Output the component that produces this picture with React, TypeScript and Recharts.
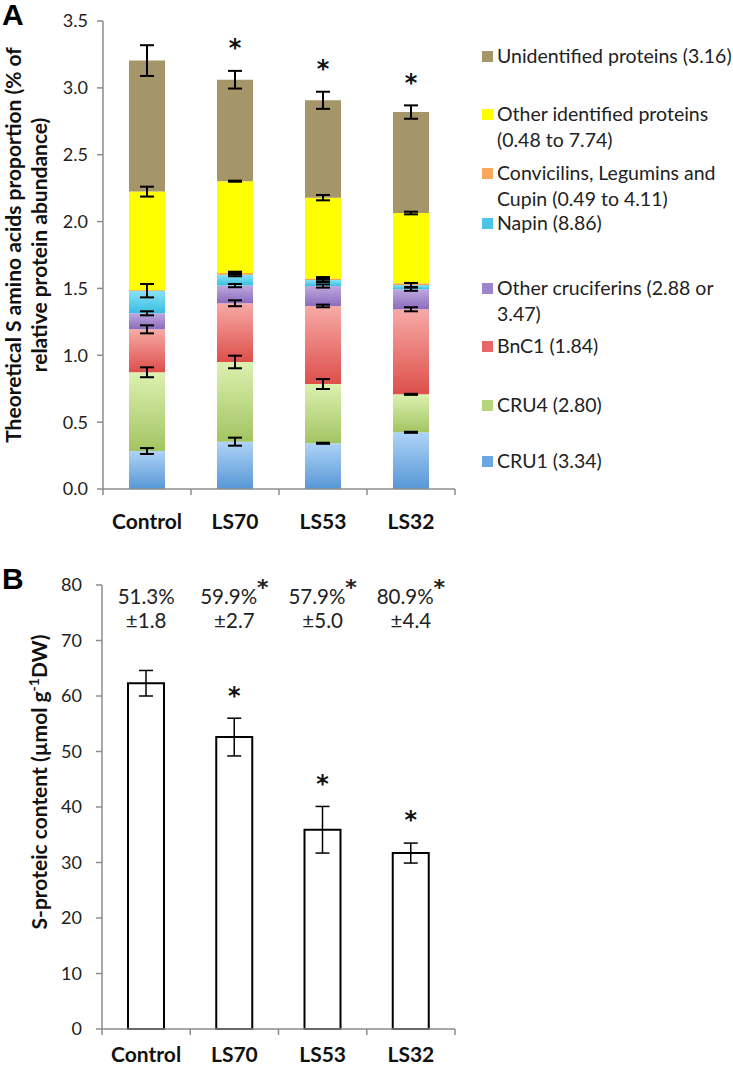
import React from 'react';
import { ComposedChart, Bar, ErrorBar, Scatter, XAxis, YAxis } from 'recharts';

const FONT = 'Lato, "Open Sans", sans-serif';
const AXIS_GREY = '#8c8c8c';

// ---- panel A: theoretical S amino acid proportion, stacked by protein family
const categories = ['Control', 'LS70', 'LS53', 'LS32'];
const cru1 = [0.284, 0.354, 0.342, 0.424];
const cru1Err = [0.022, 0.03, 0.004, 0.004];
const cru4 = [0.589, 0.596, 0.443, 0.284];
const cru4Err = [0.037, 0.047, 0.037, 0.004];
const bnc1 = [0.321, 0.439, 0.584, 0.636];
const bnc1Err = [0.03, 0.022, 0.01, 0.015];
const otherCru = [0.12, 0.132, 0.149, 0.15];
const otherCruErr = [0.015, 0.012, 0.012, 0.012];
const napin = [0.169, 0.082, 0.045, 0.032];
const napinErr = [0.05, 0.012, 0.015, 0.015];
const convicilin = [0.005, 0.012, 0.012, 0.012];
const convicilinErr = [0, 0.01, 0.01, 0];
const otherId = [0.736, 0.687, 0.604, 0.526];
const otherIdErr = [0.037, 0.004, 0.02, 0.01];
const unidentified = [0.98, 0.759, 0.728, 0.755];
const unidentifiedErr = [0.115, 0.066, 0.064, 0.05];
const sigA = [false, true, true, true];
const ticksA = [0, 0.5, 1, 1.5, 2, 2.5, 3, 3.5];

const legendA = [
  { key: 'unid', lines: ['Unidentified proteins (3.16)'] },
  { key: 'othId', lines: ['Other identified proteins', '(0.48 to 7.74)'] },
  { key: 'conv', lines: ['Convicilins, Legumins and', 'Cupin (0.49 to 4.11)'] },
  { key: 'napin', lines: ['Napin (8.86)'] },
  { key: 'othCru', lines: ['Other cruciferins (2.88 or', '3.47)'] },
  { key: 'bnc1', lines: ['BnC1 (1.84)'] },
  { key: 'cru4', lines: ['CRU4 (2.80)'] },
  { key: 'cru1', lines: ['CRU1 (3.34)'] },
];

// ---- panel B: S-proteic content
const sContent = [62.3, 52.6, 35.9, 31.7];
const sContentErr = [2.3, 3.4, 4.2, 1.8];
const sigB = [false, true, true, true];
const pctLabels = ['51.3%', '59.9%', '57.9%', '80.9%'];
const pctSd = ['±1.8', '±2.7', '±5.0', '±4.4'];
const pctSig = [false, true, true, true];
const ticksB = [0, 10, 20, 30, 40, 50, 60, 70, 80];

// styles
const SEG_COLORS: Record<string, [string, string]> = {
  cru1: ['#aed3f7', '#5797d6'],
  cru4: ['#dcf1b0', '#a3c462'],
  bnc1: ['#f7aaa6', '#dd4f4b'],
  othCru: ['#bea8de', '#8a6cbc'],
  napin: ['#8ae3f6', '#39bde2'],
  conv: ['#fbb062', '#f59a3c'],
  othId: ['#ffff00', '#ffff00'],
  unid: ['#a59669', '#a59669'],
};
const LEGEND_SWATCH: Record<string, string> = {
  unid: '#a59669', othId: '#ffff00', conv: '#f8a85a', napin: '#4cc6e8',
  othCru: '#9d84cc', bnc1: '#e8686a', cru4: '#b7d67c', cru1: '#6ba7e0',
};
const LEGEND_TOPS = [56, 114, 173, 223, 288, 346, 405, 461];
const STAR_GAP_A = 0.21;
const STAR_GAP_B = 5.1;
const PCT_LEVEL = 77.8;

const stackOrder = [
  { key: 'cru1', values: cru1, errs: cru1Err },
  { key: 'cru4', values: cru4, errs: cru4Err },
  { key: 'bnc1', values: bnc1, errs: bnc1Err },
  { key: 'othCru', values: otherCru, errs: otherCruErr },
  { key: 'napin', values: napin, errs: napinErr },
  { key: 'conv', values: convicilin, errs: convicilinErr },
  { key: 'othId', values: otherId, errs: otherIdErr },
  { key: 'unid', values: unidentified, errs: unidentifiedErr },
];

const rowsA = categories.map((cat, i) => {
  const row: Record<string, any> = { cat };
  let total = 0;
  stackOrder.forEach((s) => {
    row[s.key] = s.values[i];
    row[s.key + 'Err'] = s.errs[i];
    total += s.values[i];
  });
  row.star = sigA[i] ? total + unidentifiedErr[i] + STAR_GAP_A : null;
  return row;
});

const rowsB = categories.map((cat, i) => ({
  cat,
  value: sContent[i],
  err: sContentErr[i],
  star: sigB[i] ? sContent[i] + sContentErr[i] + STAR_GAP_B : null,
  pctLevel: PCT_LEVEL,
  pct: pctLabels[i],
  sd: pctSd[i],
  pctSig: pctSig[i],
}));

const CategoryTick = (props: any) => {
  const { x, y, payload, index, visibleTicksCount, labelGap } = props;
  const half = payload?.offset ?? 44;
  const last = index === visibleTicksCount - 1;
  return (
    <g>
      <line x1={x - half} x2={x - half} y1={y} y2={y + 6} stroke={AXIS_GREY} strokeWidth={1.5} />
      {last && <line x1={x + half} x2={x + half} y1={y} y2={y + 6} stroke={AXIS_GREY} strokeWidth={1.5} />}
      <text x={x} y={y + labelGap} dy="0.35em" textAnchor="middle" fontFamily={FONT} fontWeight={700} fontSize={21} fill="#111">
        {payload.value}
      </text>
    </g>
  );
};

const StarShape = (props: any) => {
  const { cx, cy, payload } = props;
  if (payload?.star == null || cx == null || cy == null || Number.isNaN(cy)) return <g />;
  return (
    <text x={cx} y={cy} dy="0.57em" textAnchor="middle" fontFamily="DejaVu Sans" fontWeight={700} fontSize={24} fill="#111">
      *
    </text>
  );
};

const PctShape = (props: any) => {
  const { cx, cy, payload } = props;
  if (cx == null || cy == null) return <g />;
  return (
    <g fontFamily={FONT} fontSize={20.5} fill="#222">
      <text x={cx} y={cy} dy="0.35em" textAnchor="middle">
        <tspan>{payload.pct}</tspan>
        {payload.pctSig && (
          <tspan dy={-9} fontFamily="DejaVu Sans" fontWeight={700} fontSize={22}>*</tspan>
        )}
      </text>
      <text x={cx} y={cy + 24} dy="0.35em" textAnchor="middle">{payload.sd}</text>
    </g>
  );
};

const TitleA = (props: any) => {
  const vb = props.viewBox || { x: 0, y: 0, height: 0 };
  const cy = vb.y + vb.height / 2 - 10;
  const lines = ['Theoretical S amino acids proportion (% of', 'relative protein abundance)'];
  const xs = [14, 40];
  return (
    <g>
      {lines.map((l, i) => (
        <text key={i} x={xs[i]} y={cy} transform={`rotate(-90, ${xs[i]}, ${cy})`} textAnchor="middle" dy="0.35em"
          fontFamily={FONT} fontWeight={700} fontSize={21} fill="#111">{l}</text>
      ))}
    </g>
  );
};

const TitleB = (props: any) => {
  const vb = props.viewBox || { x: 0, y: 0, height: 0 };
  const cy = vb.y + vb.height / 2 - 25;
  const x = 40;
  return (
    <text x={x} y={cy} transform={`rotate(-90, ${x}, ${cy})`} textAnchor="middle" dy="0.35em"
      fontFamily={FONT} fontWeight={700} fontSize={21} fill="#111">
      S-proteic content (µmol g<tspan dy={-8} fontSize={14}>-1</tspan><tspan dy={8}>DW)</tspan>
    </text>
  );
};

const yTick = { fill: '#222', fontSize: 18, fontFamily: FONT };

export default function App() {
  return (
    <div style={{ position: 'absolute', left: 0, top: 0, width: 733, height: 1068, background: '#fff', fontFamily: FONT }}>
      <div style={{ position: 'absolute', left: 2, top: -2, lineHeight: 'normal', fontFamily: '"Liberation Sans", Arial, sans-serif', fontWeight: 700, fontSize: 30 }}>A</div>
      <div style={{ position: 'absolute', left: 2, top: 562, lineHeight: 'normal', fontFamily: '"Liberation Sans", Arial, sans-serif', fontWeight: 700, fontSize: 30 }}>B</div>

      <div style={{ position: 'absolute', left: 0, top: 0 }}>
        <ComposedChart width={470} height={540} data={rowsA} margin={{ top: 21, right: 15, bottom: 0, left: 0 }}>
          <defs>
            {Object.entries(SEG_COLORS).map(([k, [c1, c2]]) => (
              <linearGradient key={k} id={`grad-${k}`} x1="0" y1="0" x2="0" y2="1">
                <stop offset="0%" stopColor={c1} />
                <stop offset="100%" stopColor={c2} />
              </linearGradient>
            ))}
          </defs>
          <XAxis dataKey="cat" interval={0} height={51} tickLine={false} tickSize={0} tickMargin={0}
            stroke={AXIS_GREY} strokeWidth={1.5} tick={<CategoryTick labelGap={33} />} />
          <YAxis type="number" domain={[0, 3.5]} ticks={ticksA} width={103} tickFormatter={(v: number) => v.toFixed(1)}
            stroke={AXIS_GREY} strokeWidth={1.5} tickSize={6} tickMargin={9} tick={yTick} label={TitleA} />
          {stackOrder.map((s) => (
            <Bar key={s.key} dataKey={s.key} stackId="a" barSize={36} fill={`url(#grad-${s.key})`} isAnimationActive={false}>
              <ErrorBar dataKey={s.key + 'Err'} width={7} stroke="#000" strokeWidth={2} direction="y" />
            </Bar>
          ))}
          <Scatter dataKey="star" shape={<StarShape />} isAnimationActive={false} />
        </ComposedChart>
      </div>

      {legendA.map((item, i) => (
        <div key={item.key} style={{ position: 'absolute', left: 482, top: LEGEND_TOPS[i] - 13 }}>
          <div style={{ position: 'absolute', left: 0, top: 8, width: 11, height: 11, background: LEGEND_SWATCH[item.key] }} />
          <div style={{ position: 'absolute', left: 15, top: 0, whiteSpace: 'nowrap', fontSize: 19.5, lineHeight: '26px', color: '#222' }}>
            {item.lines.map((l, j) => <div key={j}>{l}</div>)}
          </div>
        </div>
      ))}

      <div style={{ position: 'absolute', left: 0, top: 540 }}>
        <ComposedChart width={470} height={528} data={rowsB} margin={{ top: 45, right: 15, bottom: 0, left: 0 }}>
          <XAxis dataKey="cat" interval={0} height={39} tickLine={false} tickSize={0} tickMargin={0}
            stroke={AXIS_GREY} strokeWidth={1.5} tick={<CategoryTick labelGap={26} />} />
          <YAxis type="number" domain={[0, 80]} ticks={ticksB} width={102}
            stroke={AXIS_GREY} strokeWidth={1.5} tickSize={6} tickMargin={14} tick={yTick} label={TitleB} />
          <Bar dataKey="value" barSize={36} fill="#fff" stroke="#000" strokeWidth={2} isAnimationActive={false}>
            <ErrorBar dataKey="err" width={7} stroke="#000" strokeWidth={1.5} direction="y" />
          </Bar>
          <Scatter dataKey="star" shape={<StarShape />} isAnimationActive={false} />
          <Scatter dataKey="pctLevel" shape={<PctShape />} isAnimationActive={false} />
        </ComposedChart>
      </div>
    </div>
  );
}
